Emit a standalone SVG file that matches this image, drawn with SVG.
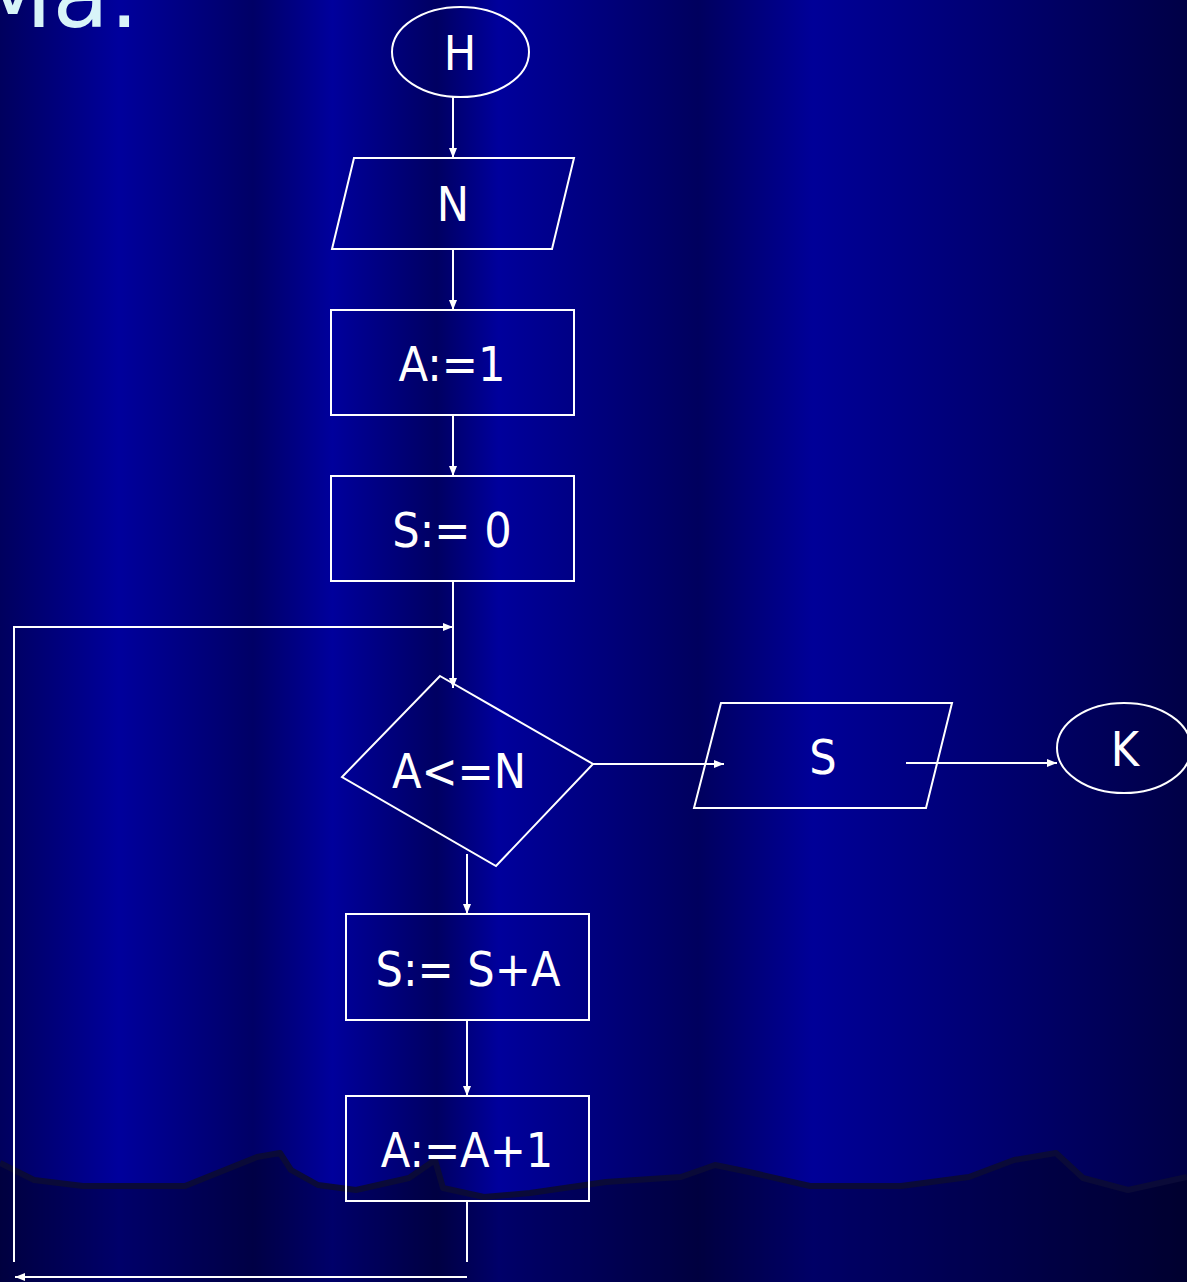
<svg xmlns="http://www.w3.org/2000/svg" width="1187" height="1282" viewBox="0 0 1187 1282">
<defs>
<linearGradient id="bg" gradientUnits="userSpaceOnUse" x1="0" y1="0" x2="1187" y2="0">
<stop offset="0" stop-color="#00005e"/>
<stop offset="0.10" stop-color="#00009c"/>
<stop offset="0.213" stop-color="#000066"/>
<stop offset="0.28" stop-color="#00009c"/>
<stop offset="0.368" stop-color="#000062"/>
<stop offset="0.42" stop-color="#00009c"/>
<stop offset="0.588" stop-color="#00005e"/>
<stop offset="0.685" stop-color="#000098"/>
<stop offset="1" stop-color="#000046"/>
</linearGradient>
<marker id="ah" viewBox="0 0 10 8" refX="10" refY="4" markerWidth="11" markerHeight="8" markerUnits="userSpaceOnUse" orient="auto">
<path d="M0,0 L10,4 L0,8 z" fill="#ffffff"/>
</marker>
</defs>
<style>
.sh{fill:none;stroke:#ffffff;stroke-width:2}
.ln{fill:none;stroke:#ffffff;stroke-width:2}
.t{font-family:"DejaVu Sans Condensed","DejaVu Sans",sans-serif;font-size:48px;fill:#ffffff;text-anchor:middle}
</style>
<rect x="0" y="0" width="1187" height="1282" fill="url(#bg)"/>
<path d="M0,1163 L34,1180 L83,1186 L185,1186 L257,1157 L280,1153 L291,1170 L318,1185 L356,1190 L409,1178 L435,1160 L443,1188 L484,1197 L530,1193 L606,1182 L681,1177 L715,1165 L749,1172 L810,1186 L901,1186 L969,1177 L1014,1160 L1056,1153 L1083,1178 L1128,1190 L1187,1177 L1187,1282 L0,1282 Z" fill="#000000" fill-opacity="0.32"/>
<path d="M0,1163 L34,1180 L83,1186 L185,1186 L257,1157 L280,1153 L291,1170 L318,1185 L356,1190 L409,1178 L435,1160 L443,1188 L484,1197 L530,1193 L606,1182 L681,1177 L715,1165 L749,1172 L810,1186 L901,1186 L969,1177 L1014,1160 L1056,1153 L1083,1178 L1128,1190 L1187,1177" fill="none" stroke="#0a0a38" stroke-width="6" stroke-linejoin="round"/>
<text x="-27" y="27" font-family="DejaVu Sans,sans-serif" font-size="92" fill="#d8f4f8">Ma:</text>
<g id="connectors">
<line class="ln" x1="453" y1="97" x2="453" y2="158" marker-end="url(#ah)"/>
<line class="ln" x1="453" y1="249" x2="453" y2="310" marker-end="url(#ah)"/>
<line class="ln" x1="453" y1="415" x2="453" y2="476" marker-end="url(#ah)"/>
<line class="ln" x1="453" y1="581" x2="453" y2="688" marker-end="url(#ah)"/>
<line class="ln" x1="593" y1="764" x2="724" y2="764" marker-end="url(#ah)"/>
<line class="ln" x1="906" y1="763" x2="1057" y2="763" marker-end="url(#ah)"/>
<line class="ln" x1="467" y1="854" x2="467" y2="914" marker-end="url(#ah)"/>
<line class="ln" x1="467" y1="1020" x2="467" y2="1096" marker-end="url(#ah)"/>
<line class="ln" x1="467" y1="1201" x2="467" y2="1262"/>
<line class="ln" x1="467" y1="1277" x2="15" y2="1277" marker-end="url(#ah)"/>
<polyline class="ln" points="14,1262 14,627 453,627" marker-end="url(#ah)"/>
</g>
<g id="start">
<ellipse class="sh" cx="460.5" cy="52" rx="68.5" ry="45"/>
<text class="t" x="460" y="70">H</text>
</g>
<g id="input-n">
<polygon class="sh" points="354,158 574,158 552,249 332,249"/>
<text class="t" x="453" y="221">N</text>
</g>
<g id="a-init">
<rect class="sh" x="331" y="310" width="243" height="105"/>
<text class="t" x="452" y="381">A:=1</text>
</g>
<g id="s-init">
<rect class="sh" x="331" y="476" width="243" height="105"/>
<text class="t" x="452" y="547">S:= 0</text>
</g>
<g id="cond">
<polygon class="sh" points="440,676 593,764 496,866 342,777"/>
<text class="t" x="459" y="788">A&lt;=N</text>
</g>
<g id="output-s">
<polygon class="sh" points="721,703 952,703 926,808 694,808"/>
<text class="t" x="823" y="774">S</text>
</g>
<g id="end">
<ellipse class="sh" cx="1124" cy="748" rx="67" ry="45"/>
<text class="t" x="1125" y="766">K</text>
</g>
<g id="s-add">
<rect class="sh" x="346" y="914" width="243" height="106"/>
<text class="t" x="468" y="986">S:= S+A</text>
</g>
<g id="a-inc">
<rect class="sh" x="346" y="1096" width="243" height="105"/>
<text class="t" x="467" y="1167">A:=A+1</text>
</g>
</svg>
